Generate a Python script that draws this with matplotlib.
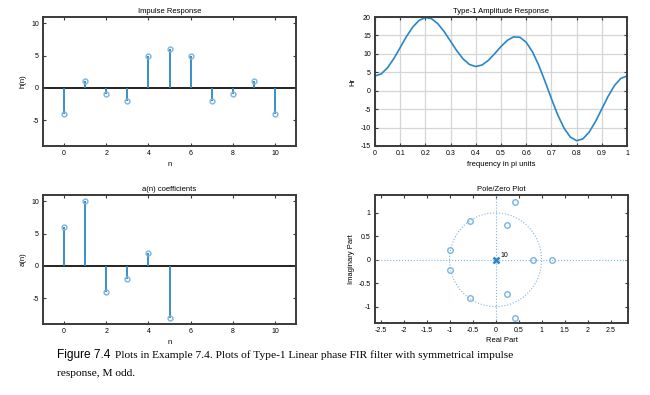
import numpy as np
import matplotlib
matplotlib.use("Agg")
import matplotlib.pyplot as plt
from matplotlib.patches import Circle

# impulse response h(n) and a(n) coefficients
n_h = np.arange(11)
h = [-4, 1, -1, -2, 5, 6, 5, -2, -1, 1, -4]
n_a = np.arange(6)
a = [6, 10, -4, -2, 2, -8]

# amplitude response, f in pi units
freq = np.linspace(0, 1, 41)
Hr = [4.00, 4.58, 6.25, 8.75, 11.72, 14.71, 17.28, 19.08, 19.85, 19.51,
      18.14, 15.98, 13.40, 10.80, 8.59, 7.11, 6.56, 6.98, 8.24, 10.04,
      12.00, 13.66, 14.61, 14.50, 13.15, 10.54, 6.87, 2.48, -2.16, -6.54,
      -10.14, -12.57, -13.56, -13.07, -11.22, -8.36, -4.95, -1.53, 1.38, 3.32,
      4.00]

# zeros (real, imag) and poles
zeros_re = [0.42, 0.42, 0.25, 0.25, -0.55, -0.55, -0.98, -0.98, 0.82, 1.22]
zeros_im = [1.24, -1.24, 0.73, -0.73, 0.82, -0.82, 0.21, -0.21, 0.0, 0.0]
poles_re = [0.0]
poles_im = [0.0]
pole_mult = 10

plt.rcParams['font.family'] = ['Liberation Sans', 'DejaVu Sans']
plt.rcParams['font.size'] = 5
plt.rcParams['axes.unicode_minus'] = False

blue = '#2a86c8'
light = '#7ab4e0'
frame = '#3a3a3a'

fig = plt.figure(figsize=(6.5, 3.95), dpi=100)
W, H = 650.0, 395.0


def box(l, t, r, b):
    return fig.add_axes([l / W, 1 - b / H, (r - l) / W, (b - t) / H])


def style(ax):
    for s in ax.spines.values():
        s.set_color(frame)
        s.set_linewidth(1.4)
    ax.tick_params(direction='in', length=2.5, width=0.8, color=frame,
                   top=True, right=True, labelsize=5, pad=3)


def stem(ax, x, y):
    ml, sl, bl = ax.stem(x, y, basefmt=' ')
    plt.setp(sl, color=blue, linewidth=1.3)
    plt.setp(ml, marker='o', markersize=3.5, markerfacecolor='none',
             markeredgecolor=light, markeredgewidth=1.0)
    ax.axhline(0, color='#222222', linewidth=1.4, zorder=1)


# impulse response
ax1 = box(43, 17, 296, 146)
stem(ax1, n_h, h)
ax1.set_xlim(-1, 11)
ax1.set_ylim(-9, 11)
ax1.set_xticks([0, 2, 4, 6, 8, 10])
ax1.set_yticks([-5, 0, 5, 10])
ax1.set_title('Impulse Response', fontsize=5.5, pad=3)
ax1.set_xlabel('n', fontsize=5.5, labelpad=3)
ax1.set_ylabel('h(n)', fontsize=5.5, labelpad=3)
style(ax1)

# amplitude response
ax2 = box(375, 17, 627, 146)
ax2.plot(freq, Hr, color=blue, linewidth=1.2)
ax2.set_xlim(0, 1)
ax2.set_ylim(-15, 20)
ax2.set_xticks(np.arange(0, 1.01, 0.1))
ax2.set_xticklabels(['0', '0.1', '0.2', '0.3', '0.4', '0.5', '0.6', '0.7',
                     '0.8', '0.9', '1'])
ax2.set_yticks([-15, -10, -5, 0, 5, 10, 15, 20])
ax2.grid(True, color='#d6d6d6', linewidth=0.9)
ax2.set_axisbelow(True)
ax2.set_title('Type-1 Amplitude Response', fontsize=5.5, pad=3)
ax2.set_xlabel('frequency in pi units', fontsize=5.5, labelpad=3)
ax2.set_ylabel('Hr', fontsize=5.5, labelpad=3)
style(ax2)

# a(n) coefficients
ax3 = box(43, 195, 296, 324)
stem(ax3, n_a, a)
ax3.set_xlim(-1, 11)
ax3.set_ylim(-9, 11)
ax3.set_xticks([0, 2, 4, 6, 8, 10])
ax3.set_yticks([-5, 0, 5, 10])
ax3.set_title('a(n) coefficients', fontsize=5.5, pad=3)
ax3.set_xlabel('n', fontsize=5.5, labelpad=3)
ax3.set_ylabel('a(n)', fontsize=5.5, labelpad=3)
style(ax3)

# pole/zero plot
ax4 = box(375, 195, 628, 323)
ax4.add_patch(Circle((0, 0), 1, fill=False, color=light, linestyle=':',
                     linewidth=0.8))
ax4.axhline(0, color=light, linestyle=':', linewidth=0.8)
ax4.axvline(0, color=light, linestyle=':', linewidth=0.8)
ax4.plot(zeros_re, zeros_im, 'o', markersize=4, markerfacecolor='none',
         markeredgecolor=light, markeredgewidth=1.0)
ax4.plot(poles_re, poles_im, 'x', markersize=4.5, color=blue,
         markeredgewidth=1.8)
ax4.text(0.1, 0.05, str(pole_mult), fontsize=5)
ax4.set_xlim(-2.62, 2.88)
ax4.set_ylim(-1.35, 1.38)
ax4.set_xticks([-2.5, -2, -1.5, -1, -0.5, 0, 0.5, 1, 1.5, 2, 2.5])
ax4.set_xticklabels(['-2.5', '-2', '-1.5', '-1', '-0.5', '0', '0.5', '1',
                     '1.5', '2', '2.5'])
ax4.set_yticks([-1, -0.5, 0, 0.5, 1])
ax4.set_yticklabels(['-1', '-0.5', '0', '0.5', '1'])
ax4.set_title('Pole/Zero Plot', fontsize=5.5, pad=3)
ax4.set_xlabel('Real Part', fontsize=5.5, labelpad=2)
ax4.set_ylabel('Imaginary Part', fontsize=5.5, labelpad=3)
style(ax4)

# caption
fig.text(57 / W, 1 - 355 / H, 'Figure 7.4', family='Liberation Sans',
         fontsize=8.6, va='center')
fig.text(115 / W, 1 - 355 / H,
         'Plots in Example 7.4. Plots of Type-1 Linear phase FIR filter '
         'with symmetrical impulse', family='Liberation Serif', fontsize=8.2,
         va='center')
fig.text(57 / W, 1 - 373 / H, 'response, M odd.', family='Liberation Serif',
         fontsize=8.2, va='center')

fig.savefig('out.png', dpi=100)
